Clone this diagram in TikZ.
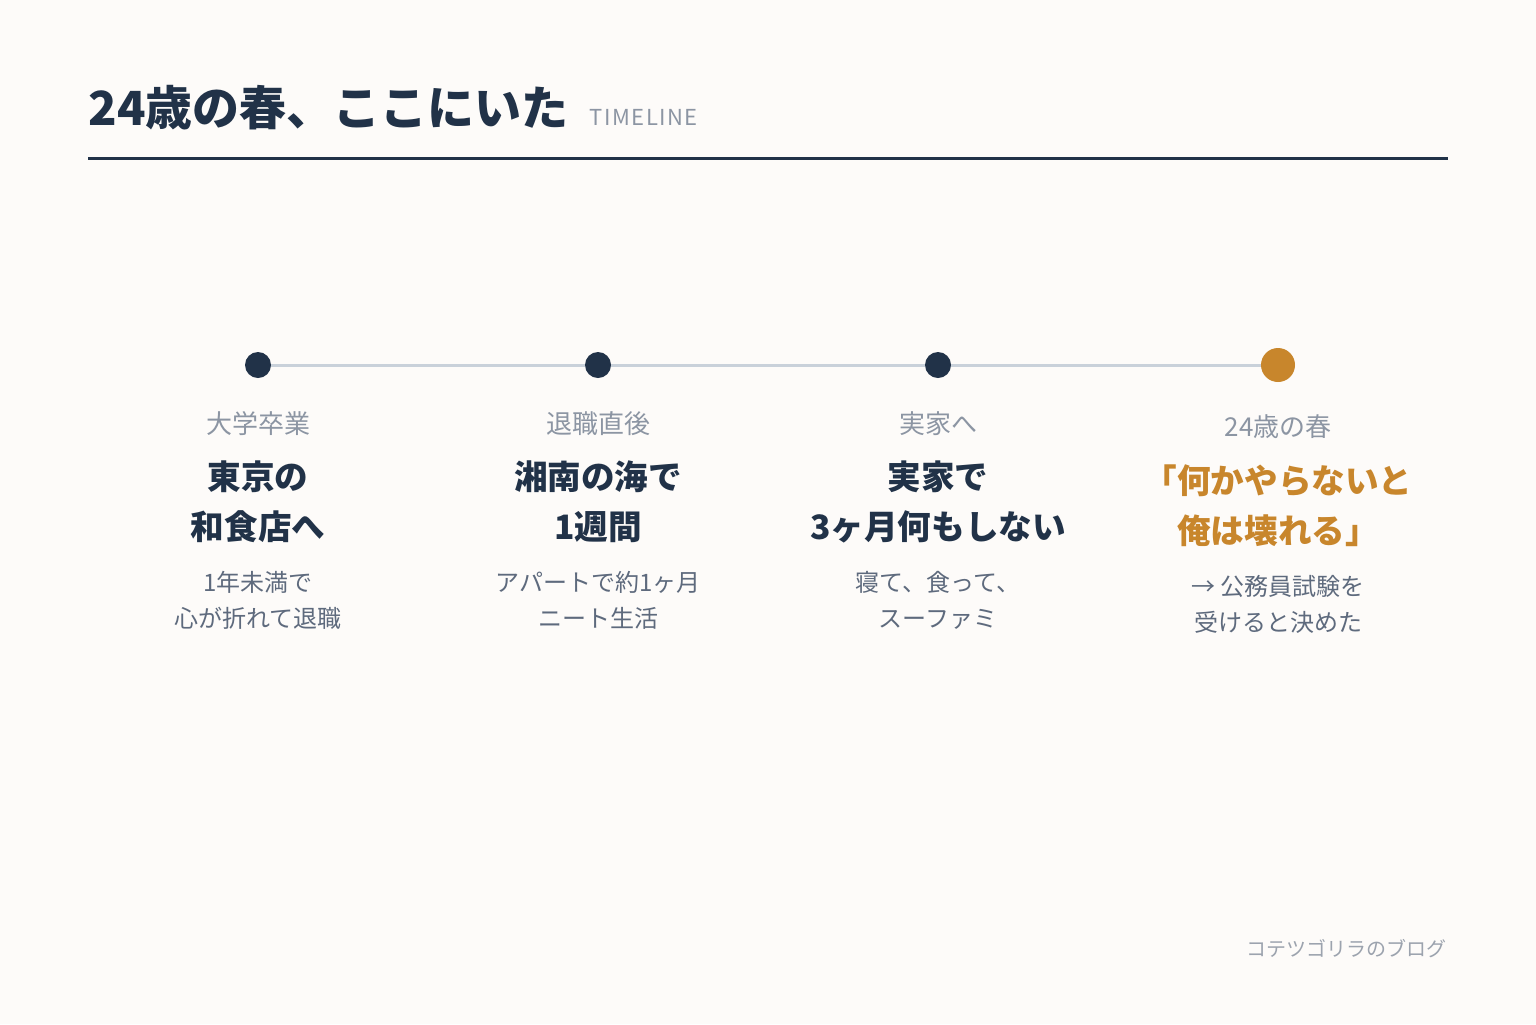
\documentclass[tikz,border=0pt]{standalone}
\usepackage{fontspec}
\setmainfont{Noto Sans CJK JP}
\newfontfamily\heavy{Noto Sans CJK JP Black}
\usepackage{tikz}
\usetikzlibrary{positioning}

\definecolor{ink}{HTML}{213248}
\definecolor{amber}{HTML}{C8862C}
\definecolor{muted}{HTML}{8C95A3}
\definecolor{slate}{HTML}{5E6A7D}
\definecolor{track}{HTML}{C9D1DA}
\definecolor{paper}{HTML}{FDFBF9}
\definecolor{faint}{HTML}{9CA3AE}

\begin{document}
\begin{tikzpicture}[x=0.5pt,y=-0.5pt,
  every node/.style={inner sep=0pt},
  dot/.style={circle, fill=ink, minimum size=13pt},
  stage/.style={text=muted, font=\fontsize{13pt}{16pt}\selectfont},
  head/.style={text=ink, align=center, font=\heavy\fontsize{16.8pt}{25pt}\selectfont},
  note/.style={text=slate, align=center, font=\fontsize{12pt}{18pt}\selectfont},
  link/.style={track, line width=1.5pt}]
  % Page
  \useasboundingbox (0,0) rectangle (1536,1024);
  \fill[paper] (0,0) rectangle (1536,1024);

  % Heading and rule
  \node[anchor=base west, text=ink, font=\heavy\fontsize{23.5pt}{28pt}\selectfont] (title) at (88,125) {24歳の春、ここにいた};
  \node[anchor=base west, text=muted, font=\fontsize{11pt}{13pt}\selectfont\addfontfeature{LetterSpace=7}] (tag) at ([xshift=10pt]title.base east) {TIMELINE};
  \draw[ink, line width=1.5pt] (88,158) -- (1448,158);

  % Timeline dots
  \node[dot] (d1) at (258,365) {};
  \node[dot] (d2) at (598,365) {};
  \node[dot] (d3) at (938,365) {};
  \node[dot, fill=amber, minimum size=17pt] (d4) at (1278,365) {};
  \foreach \a/\b in {d1/d2,d2/d3,d3/d4}
    \draw[link] (\a) -- (\b);

  % Column 1
  \node[stage] (s1) at (258,424) {大学卒業};
  \node[head] (h1) at (258,502) {東京の\\和食店へ};
  \node[note] (n1) at (258,600) {1年未満で\\心が折れて退職};

  % Column 2
  \node[stage] (s2) at (598,424) {退職直後};
  \node[head] (h2) at (598,502) {湘南の海で\\1週間};
  \node[note] (n2) at (598,600) {アパートで約1ヶ月\\ニート生活};

  % Column 3
  \node[stage] (s3) at (938,424) {実家へ};
  \node[head] (h3) at (938,502) {実家で\\3ヶ月何もしない};
  \node[note] (n3) at (938,600) {寝て、食って、\\スーファミ};

  % Column 4 (highlighted)
  \node[stage] (s4) at (1278,427) {24歳の春};
  \node[head, text=amber] (h4) at (1278,506) {「何かやらないと\\俺は壊れる」};
  \node[note] (n4) at (1278,604) {→ 公務員試験を\\受けると決めた};

  % Footer
  \node[anchor=base east, text=faint, font=\fontsize{10pt}{12pt}\selectfont] (blog) at (1447,956) {コテツゴリラのブログ};
\end{tikzpicture}
\end{document}
